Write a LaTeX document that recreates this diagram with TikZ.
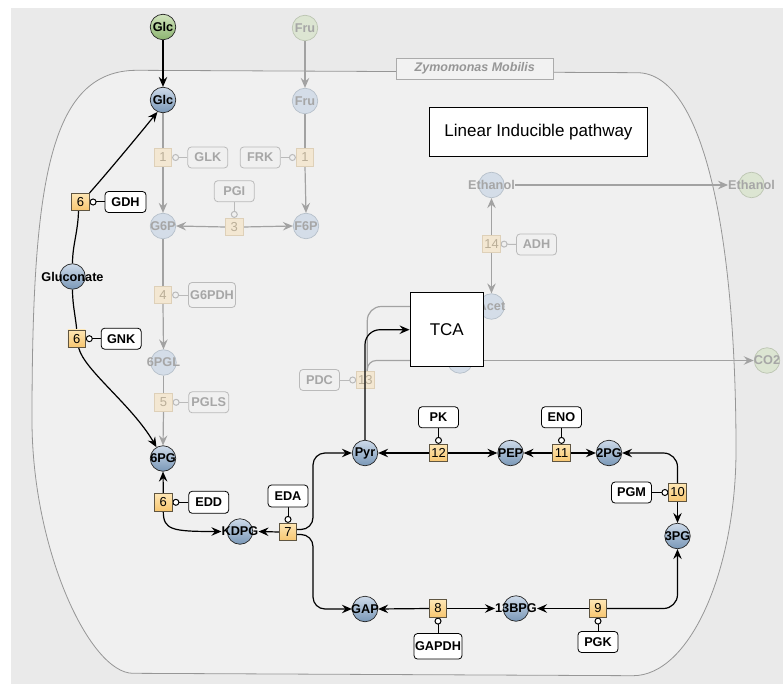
\documentclass[tikz,border=0pt]{standalone}
\usepackage{fontspec}
\setmainfont{Liberation Sans}
\usetikzlibrary{arrows.meta}

\definecolor{bgout}{RGB}{234,234,234}
\definecolor{bgin}{RGB}{240,240,240}
\definecolor{cellline}{RGB}{150,150,150}
\definecolor{spTop}{RGB}{205,218,233}
\definecolor{spBot}{RGB}{122,152,184}
\definecolor{grTop}{RGB}{210,228,190}
\definecolor{grBot}{RGB}{140,180,112}
\definecolor{fsp}{RGB}{212,221,232}
\definecolor{fspline}{RGB}{182,192,202}
\definecolor{fgr}{RGB}{220,229,210}
\definecolor{fgrline}{RGB}{188,197,178}
\definecolor{fadetext}{RGB}{166,166,166}
\definecolor{rxTop}{RGB}{254,230,180}
\definecolor{rxBot}{RGB}{247,198,112}
\definecolor{rxline}{RGB}{95,85,65}
\definecolor{frx}{RGB}{243,231,210}
\definecolor{frxline}{RGB}{222,208,184}
\definecolor{frxtext}{RGB}{186,174,152}
\definecolor{fline}{RGB}{162,162,162}
\definecolor{fenz}{RGB}{186,186,186}
\definecolor{labelfill}{RGB}{242,242,242}
\definecolor{labeltext}{RGB}{150,150,150}

\newcommand\spfont{\fontsize{12.7}{14}\selectfont\bfseries}
\newcommand\rxfont{\fontsize{13}{15}\selectfont}
\newcommand\bigfont{\fontsize{17}{20}\selectfont}

% species: a circle plus a separate text node <name>t on top of it
\newcommand\spc[5]{\node[#1] (#3) at (#4) {};\node[#2] (#3t) at (#3.center) {#5};}

\pgfdeclarelayer{back}
\pgfdeclarelayer{edges}
\pgfdeclarelayer{over}
\pgfsetlayers{back,edges,main,over}

\begin{document}
\begin{tikzpicture}[x=1pt,y=-1pt,
  >={Stealth[length=10pt,width=8.5pt,inset=3.5pt]},
  species/.style={circle,minimum size=25.5pt,inner sep=0pt,draw=black!85,line width=0.7pt,top color=spTop,bottom color=spBot},
  greensp/.style={circle,minimum size=25.5pt,inner sep=0pt,draw=black!85,line width=0.7pt,top color=grTop,bottom color=grBot},
  fspecies/.style={circle,minimum size=25.5pt,inner sep=0pt,draw=fspline,line width=0.7pt,fill=fsp},
  fgreensp/.style={circle,minimum size=25.5pt,inner sep=0pt,draw=fgrline,line width=0.7pt,fill=fgr},
  sptext/.style={inner sep=0pt,font=\spfont,text=black},
  fsptext/.style={inner sep=0pt,font=\spfont,text=fadetext},
  rx/.style={rectangle,minimum size=17.5pt,inner sep=0pt,draw=rxline,line width=0.7pt,top color=rxTop,bottom color=rxBot,font=\rxfont},
  frx/.style={rectangle,minimum size=17.5pt,inner sep=0pt,draw=frxline,line width=0.7pt,fill=frx,text=frxtext,font=\rxfont},
  enz/.style={rectangle,rounded corners=3.5pt,draw=black,line width=0.8pt,fill=white,minimum width=40pt,minimum height=21pt,inner sep=0pt,font=\spfont},
  fenzyme/.style={rectangle,rounded corners=3.5pt,draw=fenz,line width=0.8pt,minimum width=40pt,minimum height=21pt,inner sep=0pt,font=\spfont,text=fadetext},
  conn/.style={line width=1.2pt,draw=black},
  fconn/.style={line width=1.2pt,draw=fline},
  modi/.style={line width=1pt,draw=black,-{Circle[length=7pt,width=7pt,fill=white]}},
  fmodi/.style={line width=1pt,draw=fenz,-{Circle[length=7pt,width=7pt,fill=bgin]}}
]
\useasboundingbox (0,0) rectangle (783,684);

% background and cell compartment
\begin{pgfonlayer}{back}
\fill[white] (0,0) rectangle (783,684);
\fill[bgout] (11,8) rectangle (783,684);
\draw[cellline,line width=0.8pt,fill=bgin]
  (137,70.3) -- (637,72.7)
  .. controls (705,72.7) and (736,240) .. (736,450)
  .. controls (736,570) and (690,675.7) .. (633,675.7)
  -- (133,673.3)
  .. controls (90,673.3) and (32,550) .. (32,420)
  .. controls (32,180) and (50,70.3) .. (137,70.3) -- cycle;
\end{pgfonlayer}

\node[draw=labeltext!80,line width=0.7pt,fill=labelfill,minimum width=157.7pt,minimum height=20.7pt,inner sep=0pt,
  font=\fontsize{12.5}{14}\selectfont\bfseries\itshape,text=labeltext] (celllabel) at (474.8,68.7) {Zymomonas Mobilis};
\node[draw=black,line width=0.8pt,fill=white,minimum width=218.4pt,minimum height=49.4pt,inner sep=0pt,font=\bigfont] (title) at (538.5,132) {Linear Inducible pathway};

% species
\spc{greensp}{sptext}{glcout}{163,27}{Glc}
\spc{species}{sptext}{glcin}{163,100}{Glc}
\spc{fgreensp}{fsptext}{fruout}{305,28}{Fru}
\spc{fspecies}{fsptext}{fruin}{305,101}{Fru}
\spc{fspecies}{fsptext}{g6p}{163,226}{G6P}
\spc{fspecies}{fsptext}{f6p}{306,226}{F6P}
\spc{species}{sptext}{gluc}{72.5,276.5}{Gluconate}
\spc{fspecies}{fsptext}{pgl6}{163.5,362.5}{6PGL}
\spc{species}{sptext}{pg6}{163,458.5}{6PG}
\spc{species}{sptext}{kdpg}{240,531.5}{KDPG}
\spc{species}{sptext}{pyr}{365,453}{Pyr}
\spc{species}{sptext}{gap}{365,609}{GAP}
\spc{species}{sptext}{pep}{510.5,453}{PEP}
\spc{species}{sptext}{pg2}{609,453}{2PG}
\spc{species}{sptext}{pg3}{677.5,536}{3PG}
\spc{species}{sptext}{bpg13}{516,608.5}{13BPG}
\spc{fspecies}{fsptext}{ethin}{491.5,185}{Ethanol}
\spc{fgreensp}{fsptext}{ethout}{751.5,185}{Ethanol}
\spc{fgreensp}{fsptext}{co2out}{767,360.5}{CO2}
\spc{fspecies}{fsptext}{acet}{491.5,306.5}{Acet}
\spc{fspecies}{fsptext}{co2in}{460,360.5}{}

\node[draw=black,line width=0.8pt,fill=white,minimum width=73.7pt,minimum height=74pt,inner sep=0pt,font=\bigfont] (tca) at (446.8,329.7) {TCA};

% reactions
\node[frx] (r1a) at (163,157.5) {1};
\node[frx] (r1b) at (305,157.5) {1};
\node[frx] (r3) at (234.3,227) {3};
\node[frx] (r4) at (163,295) {4};
\node[frx] (r5) at (163.5,402.3) {5};
\node[rx] (r6a) at (80.5,202) {6};
\node[rx] (r6b) at (76.7,338.7) {6};
\node[rx] (r6c) at (163.3,502.3) {6};
\node[rx] (r7) at (288,532) {7};
\node[rx] (r8) at (438,608.5) {8};
\node[rx] (r9) at (598,608.5) {9};
\node[rx] (r10) at (677.5,492.5) {10};
\node[rx] (r11) at (561.5,453) {11};
\node[rx] (r12) at (438.5,453) {12};
\node[frx] (r13) at (365.3,380) {13};
\node[frx] (r14) at (491.5,244) {14};

% enzymes
\node[fenzyme] (glk) at (207.8,157.5) {GLK};
\node[fenzyme] (frk) at (260.2,157.5) {FRK};
\node[fenzyme] (pgi) at (234.3,191.2) {PGI};
\node[fenzyme,minimum width=47pt,minimum height=25pt] (g6pdh) at (212,295) {G6PDH};
\node[fenzyme] (pgls) at (208.7,402.3) {PGLS};
\node[fenzyme] (pdc) at (319.5,380) {PDC};
\node[fenzyme] (adh) at (536.5,244.5) {ADH};
\node[enz,minimum width=41pt] (gdh) at (125.5,202) {GDH};
\node[enz] (gnk) at (121.2,338.7) {GNK};
\node[enz,minimum height=22pt] (edd) at (208.7,502.3) {EDD};
\node[enz,minimum height=22pt] (eda) at (288,496) {EDA};
\node[enz] (pk) at (438.5,417.3) {PK};
\node[enz] (eno) at (561.5,417.3) {ENO};
\node[enz] (pgm) at (631.5,492.5) {PGM};
\node[enz] (pgk) at (598,642) {PGK};
\node[enz,minimum width=48pt,minimum height=25.5pt] (gapdh) at (438,646.3) {GAPDH};

\begin{pgfonlayer}{edges}
% transport
\draw[conn,->] (glcout.south) -- (glcin.north);
\draw[fconn,->] (fruout.south) -- (fruin.north);
% upper glycolysis (inactive)
\draw[fconn] (glcin.south) -- (r1a.north);
\draw[fconn,->] (r1a.south) -- (g6p.north);
\draw[fconn] (fruin.south) -- (r1b.north);
\draw[fconn,->] (r1b.south) -- (f6p.north);
\draw[fconn,->] (r3.west) -- (g6p.east);
\draw[fconn,->] (r3.east) -- (f6p.west);
\draw[fconn] (g6p.south) -- (r4.north);
\draw[fconn,->] (r4.south) -- (pgl6.north);
\draw[fconn] (pgl6.south) -- (r5.north);
\draw[fconn,->] (r5.south) -- (pg6.north);
% gluconate branch
\draw[conn] ([xshift=-2pt]r6a.south) .. controls (78,232) and (72.5,245) .. (gluc.north);
\draw[conn,->] (r6a.north east) .. controls (108,172) and (138,136) .. (glcin.-115);
\draw[conn] (gluc.south) .. controls (72.5,305) and (75.5,316) .. (r6b.north);
\draw[conn,->] ([xshift=2pt]r6b.south) .. controls (84,370) and (132,405) .. (pg6.120);
% Entner-Doudoroff
\draw[conn,->] (r6c.north) -- (pg6.south);
\draw[conn,->] (r6c.south) .. controls (163.3,530) and (172,531.5) .. (kdpgt.west);
\draw[conn,->] (r7.west) -- (kdpgt.east);
\draw[conn,->,rounded corners=12pt] ([yshift=2.5pt]r7.east) -| (313,453) -- (pyr.west);
\draw[conn,->,rounded corners=12pt] ([yshift=-2.5pt]r7.east) -| (313,609) -- (gap.west);
% lower glycolysis
\draw[conn,->] (r8.west) -- (gap.east);
\draw[conn,->] (r8.east) -- (bpg13t.west);
\draw[conn,->] (r9.west) -- (bpg13t.east);
\draw[conn,->,rounded corners=14pt] (r9.east) -| (pg3.south);
\draw[conn,->] (r10.south) -- (pg3.north);
\draw[conn,->,rounded corners=14pt] (r10.north) |- (pg2.east);
\draw[conn,->] (r11.west) -- (pep.east);
\draw[conn,->] (r11.east) -- (pg2.west);
\draw[conn,->] (r12.west) -- (pyr.east);
\draw[conn,->] (r12.east) -- (pep.west);
% fermentation (inactive)
\draw[fconn,rounded corners=14pt] ([xshift=2pt]r13.north) |- (acet.west);
\draw[fconn,rounded corners=9pt] ([xshift=2pt]r13.north) |- (co2in.west);
\draw[fconn,->] (co2in.east) -- (co2outt.west);
\draw[fconn,->] (r14.north) -- (ethin.south);
\draw[fconn,->] (r14.south) -- (acet.north);
\draw[fconn,->] (ethint.east) -- (ethoutt.west);
% modifiers
\draw[fmodi] (glk.west) -- (r1a.east);
\draw[fmodi] (frk.east) -- (r1b.west);
\draw[fmodi] (pgi.south) -- (r3.north);
\draw[fmodi] (g6pdh.west) -- (r4.east);
\draw[fmodi] (pgls.west) -- (r5.east);
\draw[fmodi] (pdc.east) -- (r13.west);
\draw[fmodi] (adh.west) -- (r14.east);
\draw[modi] (gdh.west) -- (r6a.east);
\draw[modi] (gnk.west) -- (r6b.east);
\draw[modi] (edd.west) -- (r6c.east);
\draw[modi] (eda.south) -- (r7.north);
\draw[modi] (pk.south) -- (r12.north);
\draw[modi] (eno.south) -- (r11.north);
\draw[modi] (pgm.east) -- (r10.west);
\draw[modi] (pgk.north) -- (r9.south);
\draw[modi] (gapdh.north) -- (r8.south);
\end{pgfonlayer}

\begin{pgfonlayer}{over}
\draw[conn,->,rounded corners=15pt] (pyr.north) |- (tca.west);
\end{pgfonlayer}
\end{tikzpicture}
\end{document}
